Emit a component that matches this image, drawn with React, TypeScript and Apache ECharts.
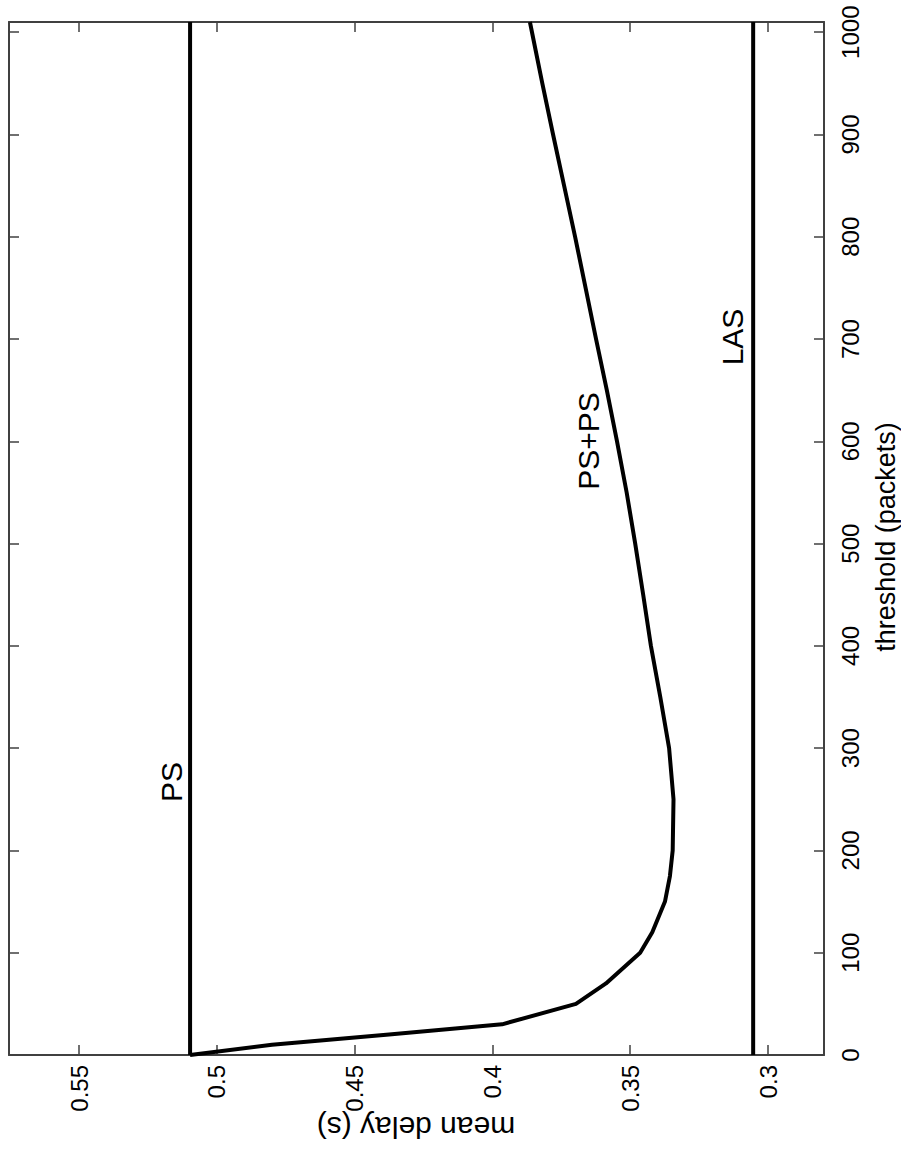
import React, { useEffect, useRef } from "react";
import * as echarts from "echarts";

// threshold (packets) sampled along the PS+PS curve
const thresholds = [0, 10, 20, 30, 50, 70, 100, 120, 150, 175, 200, 250, 300, 350, 400, 450, 500, 550, 600, 650, 700, 750, 800, 850, 900, 950, 1010];
// mean delay (s) of PS+PS at each threshold
const psPsDelay = [0.5097, 0.48, 0.4375, 0.3965, 0.3697, 0.3588, 0.3464, 0.342, 0.3374, 0.3356, 0.3346, 0.3343, 0.3359, 0.3391, 0.3425, 0.3453, 0.3482, 0.3513, 0.3548, 0.3585, 0.3624, 0.3662, 0.370, 0.374, 0.378, 0.3819, 0.3864];
// constant references
const psDelay = 0.5097;
const lasDelay = 0.3054;
const thresholdRange = [0, 1010];
const delayRange = [0.2797, 0.5754];
const delayTicks = [0.3, 0.35, 0.4, 0.45, 0.5, 0.55];
const thresholdTicks = [0, 100, 200, 300, 400, 500, 600, 700, 800, 900, 1000];

const FONT = "'Liberation Sans', Arial, Helvetica, sans-serif";

export default function App() {
  const ref = useRef<HTMLDivElement>(null);
  useEffect(() => {
    document.body.style.margin = "0";
    if (!ref.current) return;
    const chart = echarts.init(ref.current, null, { renderer: "svg" });
    const frameLine = { show: true, lineStyle: { color: "#404040", width: 2 } };
    const tick = { show: true, inside: true, length: 10, lineStyle: { color: "#404040", width: 1.5 } };
    const xCommon = {
      type: "value" as const,
      inverse: true,
      min: delayRange[0],
      max: delayRange[1],
      splitLine: { show: false },
      axisLine: { ...frameLine, onZero: false },
    };
    const yCommon = {
      type: "value" as const,
      min: thresholdRange[0],
      max: thresholdRange[1],
      splitLine: { show: false },
      axisLine: { ...frameLine, onZero: false },
    };
    const option: any = {
      animation: false,
      backgroundColor: "#ffffff",
      grid: { left: 9, right: 77, top: 22, bottom: 99, containLabel: false },
      xAxis: [
        {
          ...xCommon,
          position: "bottom",
          axisTick: { ...tick, customValues: delayTicks },
          axisLabel: {
            show: true,
            rotate: 90,
            margin: 10,
            fontSize: 24,
            fontFamily: FONT,
            color: "#000",
            customValues: delayTicks,
            formatter: (v: number) => String(Math.round(v * 100) / 100),
          },
        },
        {
          ...xCommon,
          position: "top",
          axisTick: { ...tick, customValues: delayTicks },
          axisLabel: { show: false },
        },
      ],
      yAxis: [
        {
          ...yCommon,
          position: "right",
          axisTick: { ...tick, customValues: thresholdTicks },
          axisLabel: {
            show: true,
            rotate: 90,
            margin: 14,
            fontSize: 24,
            fontFamily: FONT,
            color: "#000",
            customValues: thresholdTicks,
            formatter: (v: number) => String(Math.round(v)),
          },
        },
        {
          ...yCommon,
          position: "left",
          axisTick: { ...tick, customValues: thresholdTicks },
          axisLabel: { show: false },
        },
      ],
      series: [
        {
          type: "line",
          name: "PS",
          xAxisIndex: 0,
          yAxisIndex: 0,
          showSymbol: false,
          lineStyle: { color: "#000", width: 4 },
          data: thresholdRange.map((t) => [psDelay, t]),
        },
        {
          type: "line",
          name: "LAS",
          xAxisIndex: 0,
          yAxisIndex: 0,
          showSymbol: false,
          lineStyle: { color: "#000", width: 4 },
          data: thresholdRange.map((t) => [lasDelay, t]),
        },
        {
          type: "line",
          name: "PS+PS",
          xAxisIndex: 0,
          yAxisIndex: 0,
          showSymbol: false,
          lineStyle: { color: "#000", width: 4, join: "round" },
          data: thresholds.map((t, i) => [psPsDelay[i], t]),
        },
      ],
      graphic: [
        {
          type: "text",
          x: 171,
          y: 782,
          rotation: Math.PI / 2,
          style: { text: "PS", fontSize: 30, fontFamily: FONT, fill: "#000", align: "center", verticalAlign: "middle" },
        },
        {
          type: "text",
          x: 588,
          y: 441,
          rotation: Math.PI / 2,
          style: { text: "PS+PS", fontSize: 30, fontFamily: FONT, fill: "#000", align: "center", verticalAlign: "middle" },
        },
        {
          type: "text",
          x: 732,
          y: 337,
          rotation: Math.PI / 2,
          style: { text: "LAS", fontSize: 30, fontFamily: FONT, fill: "#000", align: "center", verticalAlign: "middle" },
        },
        {
          type: "text",
          x: 416,
          y: 1127,
          rotation: Math.PI,
          style: { text: "mean delay (s)", fontSize: 30, fontFamily: FONT, fill: "#000", align: "center", verticalAlign: "middle" },
        },
        {
          type: "text",
          x: 886,
          y: 537,
          rotation: Math.PI / 2,
          style: { text: "threshold (packets)", fontSize: 27, fontFamily: FONT, fill: "#000", align: "center", verticalAlign: "middle" },
        },
      ],
    };
    chart.setOption(option);
    return () => chart.dispose();
  }, []);
  return <div ref={ref} style={{ width: 901, height: 1154 }} />;
}
